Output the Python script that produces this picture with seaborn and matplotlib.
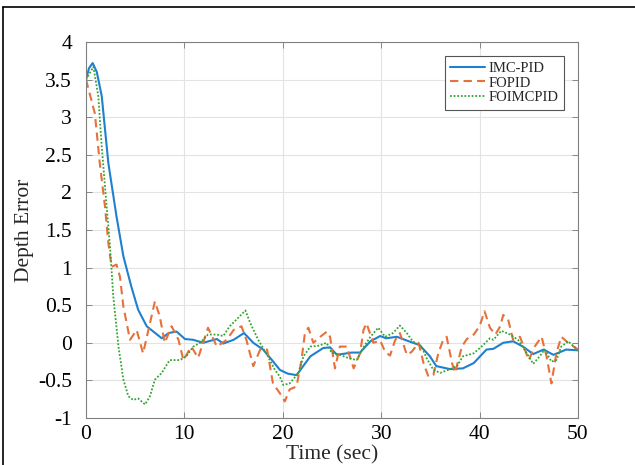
import numpy as np
import pandas as pd
import matplotlib.pyplot as plt
from matplotlib.lines import Line2D
import seaborn as sns

# IMC-PID (blue, solid)
t_imc = [0, 0.3, 0.68, 1.1, 1.6, 2.27, 3.1, 3.8, 4.6, 5.3, 6.17, 6.84, 7.7, 8.4, 9.2, 10.06,
         10.9, 11.9, 13.3, 13.95, 15.0, 16.06, 17.0, 18.0, 18.9, 19.7, 20.5, 21.4, 22.8, 24.1,
         24.8, 25.5, 27.0, 27.85, 28.9, 29.9, 30.5, 31.6, 32.6, 33.9, 34.95, 35.6, 37.0, 38.3,
         39.4, 40.7, 41.4, 42.4, 43.4, 44.4, 45.45, 46.5, 47.5, 48.8, 50.0]
v_imc = [3.5, 3.65, 3.72, 3.6, 3.28, 2.39, 1.68, 1.15, 0.75, 0.44, 0.22, 0.15, 0.06, 0.13, 0.15, 0.05,
         0.04, 0.0, 0.05, -0.01, 0.04, 0.13, 0.0, -0.09, -0.23, -0.36, -0.41, -0.43, -0.18, -0.07,
         -0.06, -0.16, -0.13, -0.13, 0.02, 0.09, 0.06, 0.08, 0.03, -0.03, -0.18, -0.31, -0.35, -0.34,
         -0.27, -0.09, -0.08, 0.0, 0.02, -0.05, -0.15, -0.09, -0.16, -0.09, -0.1]

# FOPID (orange, dashed)
t_fo = [0, 0.9, 1.4, 1.93, 2.27, 2.6, 3.1, 3.45, 3.8, 4.47, 5.15, 5.8, 6.5, 7.0, 7.5, 8.0, 8.7,
        9.4, 9.9, 10.7, 11.4, 12.4, 13.3, 14.3, 15.0, 15.8, 16.3, 17.0, 17.7, 18.4, 19.0, 19.7,
        20.2, 20.7, 21.4, 21.9, 22.25, 22.6, 23.1, 23.8, 24.5, 24.8, 25.3, 25.8, 26.5, 27.2,
        27.85, 28.2, 28.5, 29.2, 29.9, 30.4, 30.9, 31.4, 31.9, 32.6, 33.1, 33.8, 34.3, 34.8,
        35.3, 35.8, 36.3, 36.65, 37.2, 37.5, 38.2, 38.7, 39.4, 40.0, 40.5, 41.05, 41.6, 42.1,
        42.4, 42.9, 43.4, 44.1, 45.0, 45.6, 46.3, 46.8, 47.3, 47.8, 48.3, 49.0, 50.0]
v_fo = [3.5, 3.05, 2.39, 1.81, 1.33, 1.01, 1.04, 0.88, 0.48, 0.04, 0.17, -0.14, 0.26, 0.55, 0.35,
        0.0, 0.22, 0.04, -0.23, -0.05, -0.2, 0.2, -0.05, 0.04, 0.17, 0.22, 0.04, -0.31, -0.09,
        -0.09, -0.54, -0.67, -0.78, -0.62, -0.58, -0.23, 0.13, 0.2, 0.0, 0.08, 0.15, 0.08, -0.34,
        -0.05, -0.05, -0.34, -0.14, 0.17, 0.26, 0.0, 0.03, -0.12, -0.17, 0.03, 0.13, -0.16,
        -0.12, 0.0, -0.27, -0.45, -0.43, -0.14, 0.04, 0.08, -0.27, -0.4, -0.05, 0.05, 0.11, 0.22,
        0.42, 0.2, 0.11, 0.22, 0.37, 0.31, 0.04, 0.08, -0.23, -0.05, 0.08, -0.18, -0.54, -0.14,
        0.08, 0.0, -0.09]

# FOIMCPID (green, dotted)
t_foimc = [0, 0.75, 1.25, 1.6, 2.1, 2.44, 2.77, 3.3, 3.8, 4.3, 4.8, 5.3, 6.0, 6.5, 7.0, 7.7,
           8.5, 9.55, 10.2, 10.9, 11.6, 12.4, 13.3, 13.95, 14.6, 15.3, 16.2, 16.7, 17.5, 18.4,
           19.2, 19.7, 20.05, 20.7, 21.6, 22.1, 22.8, 23.6, 24.45, 24.95, 25.8, 26.6, 27.5, 28.2,
           28.9, 29.7, 30.4, 31.2, 31.9, 32.6, 33.2, 34.1, 34.6, 35.3, 36.0, 36.8, 37.7, 38.3,
           39.4, 40.2, 41.05, 41.4, 42.2, 43.1, 43.9, 44.8, 45.45, 46.1, 46.6, 47.3, 47.8, 48.3,
           49.0, 50.0]
v_foimc = [3.5, 3.67, 3.28, 2.61, 1.81, 1.28, 0.62, -0.05, -0.49, -0.71, -0.76, -0.74, -0.82,
           -0.71, -0.49, -0.4, -0.23, -0.23, -0.18, -0.05, 0.0, 0.11, 0.11, 0.09, 0.22, 0.31, 0.43,
           0.26, 0.04, -0.16, -0.36, -0.45, -0.56, -0.54, -0.4, -0.18, -0.05, -0.04, 0.0, -0.13,
           -0.16, -0.2, -0.23, -0.06, 0.08, 0.2, 0.08, 0.13, 0.23, 0.13, 0.02, -0.05, -0.2, -0.36,
           -0.4, -0.36, -0.31, -0.18, -0.14, -0.05, 0.06, 0.04, 0.16, 0.11, 0.04, -0.14, -0.28,
           -0.18, -0.09, -0.25, -0.23, -0.05, 0.02, -0.1]

names = ['IMC-PID', 'FOPID', 'FOIMCPID']
colors = {'IMC-PID': '#1f80d0', 'FOPID': '#e8703a', 'FOIMCPID': '#33a532'}
dashes = {'IMC-PID': '', 'FOPID': (4, 2.5), 'FOIMCPID': (1, 1)}

df = pd.concat([
    pd.DataFrame({'t': t_imc, 'v': v_imc, 'ctrl': 'IMC-PID'}),
    pd.DataFrame({'t': t_fo, 'v': v_fo, 'ctrl': 'FOPID'}),
    pd.DataFrame({'t': t_foimc, 'v': v_foimc, 'ctrl': 'FOIMCPID'}),
])

sns.set_theme(style="ticks")
plt.rcParams['font.family'] = ['Liberation Serif', 'DejaVu Serif']

fig = plt.figure(figsize=(6.35, 4.65), dpi=100)
ax = fig.add_axes([86 / 635, 1 - 418 / 465, 492 / 635, 376 / 465])

sns.lineplot(data=df, x='t', y='v', hue='ctrl', style='ctrl', hue_order=names,
             style_order=names, palette=colors, dashes=dashes, estimator=None,
             sort=False, ax=ax, linewidth=1.5, legend=False)
for ln in ax.get_lines():
    if ln.get_color() == colors['FOIMCPID']:
        ln.set_linewidth(1.3)

ax.set_xlim(0, 50)
ax.set_ylim(-1, 4)
ax.set_xticks([0, 10, 20, 30, 40, 50])
ax.set_yticks(np.arange(-1, 4.01, 0.5))
ax.set_yticklabels(['-1', '-0.5', '0', '0.5', '1', '1.5', '2', '2.5', '3', '3.5', '4'])
ax.grid(True, color='#e3e3e3', linewidth=0.8)
ax.tick_params(direction='in', length=4, width=0.6, color='#777777', labelsize=15.5,
               labelcolor='black', top=True, right=True)
ax.tick_params(axis='y', pad=10)
ax.tick_params(axis='x', pad=5)
for sp in ax.spines.values():
    sp.set_color('#808080')
    sp.set_linewidth(0.8)
ax.set_xlabel('Time (sec)', fontsize=15.5, labelpad=1)
ax.set_ylabel('Depth Error', fontsize=15.5, labelpad=3)

handles = [Line2D([], [], color=colors[n], linewidth=1.5 if n != 'FOIMCPID' else 1.3,
                  linestyle='-' if n == 'IMC-PID' else '--', **({'dashes': dashes[n]} if dashes[n] else {}))
           for n in names]
leg = ax.legend(handles, names, loc='upper right', fontsize=10.5, frameon=True,
                fancybox=False, framealpha=1, edgecolor='#555555', borderaxespad=0.95,
                handlelength=2.4, handletextpad=0.2, labelspacing=0.1, borderpad=0.4)
leg.get_frame().set_linewidth(0.8)

# outer frame of the screenshot (left and top edges)
fig.add_artist(Line2D([3 / 635, 3 / 635], [0, 1 - 7 / 465], transform=fig.transFigure,
                      color='black', linewidth=1.2))
fig.add_artist(Line2D([3 / 635, 1], [1 - 7 / 465, 1 - 7 / 465], transform=fig.transFigure,
                      color='black', linewidth=1.2))

fig.savefig('out.png', dpi=100)
